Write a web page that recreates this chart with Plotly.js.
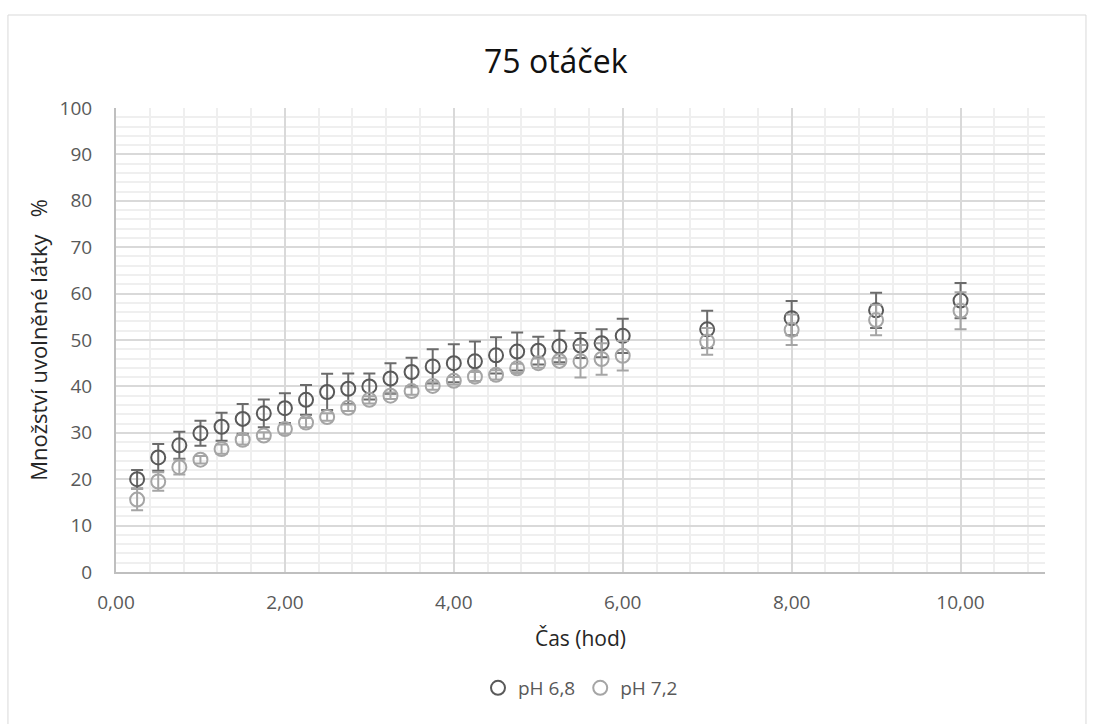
<!DOCTYPE html>
<html>
<head>
<meta charset="utf-8">
<script src="https://cdn.plot.ly/plotly-3.0.1.min.js"></script>
<style>html,body{margin:0;padding:0;background:#fff;}#chart{width:1094px;height:724px;}</style>
</head>
<body>
<div id="chart"></div>
<script>
const timeHours = [0.25,0.5,0.75,1.0,1.25,1.5,1.75,2.0,2.25,2.5,2.75,3.0,3.25,3.5,3.75,4.0,4.25,4.5,4.75,5.0,5.25,5.5,5.75,6.0,7,8,9,10];
const releasePH68 = [20.0,24.7,27.3,29.9,31.3,33.0,34.2,35.3,37.1,38.8,39.5,40.0,41.7,43.1,44.3,45.0,45.4,46.7,47.5,47.7,48.6,48.8,49.3,50.9,52.3,54.7,56.4,58.5];
const errorPH68 = [2.0,2.9,2.9,2.7,3.0,3.2,3.0,3.2,3.2,3.9,3.3,2.8,3.3,3.1,3.7,4.1,4.3,3.9,4.1,3.0,3.4,2.7,3.0,3.7,4.0,3.7,3.8,3.8];
const releasePH72 = [15.6,19.5,22.6,24.2,26.5,28.5,29.4,30.8,32.2,33.4,35.4,37.1,38.0,39.0,40.1,41.2,42.1,42.5,43.9,45.0,45.5,45.4,45.9,46.6,49.7,52.2,54.3,56.3];
const errorPH72 = [2.3,2.0,1.6,0.8,1.0,1.0,0.7,1.0,1.0,0.8,0.7,0.8,0.7,0.8,0.8,0.8,1.0,1.0,1.0,1.0,0.7,3.5,3.4,3.2,2.9,3.3,3.3,4.0];
const seriesNames = ["pH 6,8", "pH 7,2"];
const chartTitle = "75 otáček";
const xTitle = "Čas (hod)";
const yTitle = "Množství uvolněné látky\u00A0\u00A0\u00A0%";

const font = "Open Sans, Noto Sans, sans-serif";

const traces = [
  {
    x: timeHours, y: releasePH68, name: seriesNames[0], type: "scatter", mode: "markers",
    marker: {symbol: "circle-open", size: 14, color: "#595959", line: {width: 2, color: "#595959"}},
    error_y: {type: "data", array: errorPH68, visible: true, color: "#6b6b6b", thickness: 2, width: 6}
  },
  {
    x: timeHours, y: releasePH72, name: seriesNames[1], type: "scatter", mode: "markers",
    marker: {symbol: "circle-open", size: 14, color: "#a5a5a5", line: {width: 2, color: "#a5a5a5"}},
    error_y: {type: "data", array: errorPH72, visible: true, color: "#a5a5a5", thickness: 2, width: 6}
  }
];

const layout = {
  width: 1094, height: 724,
  paper_bgcolor: "#fff", plot_bgcolor: "#fff",
  margin: {l: 116, r: 49, t: 108, b: 152},
  separators: ", ",
  font: {family: font, color: "#595959", size: 19},
  title: {text: chartTitle, font: {family: font, size: 32, color: "#111"}, x: 0.508, xanchor: "center", y: 0.915, yanchor: "middle"},
  showlegend: true,
  legend: {orientation: "h", x: 0.5, xanchor: "center", y: -0.25, yanchor: "middle", font: {size: 19, color: "#595959"}, itemwidth: 30, tracegroupgap: 0},
  xaxis: {
    range: [0, 11], dtick: 2, tick0: 0, tickformat: ".2f",
    showgrid: true, gridcolor: "#d9d9d9", gridwidth: 2,
    minor: {dtick: 0.4, tick0: 0, showgrid: true, gridcolor: "#efefef", gridwidth: 2},
    showline: true, linecolor: "#bfbfbf", linewidth: 2, zeroline: false, ticks: "",
    ticklabelstandoff: 12,
    tickfont: {size: 19, color: "#595959"},
    title: {text: xTitle, font: {size: 21, color: "#262626"}, standoff: 18},
    fixedrange: true
  },
  yaxis: {
    range: [0, 100], dtick: 10, tick0: 0,
    showgrid: true, gridcolor: "#d9d9d9", gridwidth: 2,
    minor: {dtick: 2, tick0: 0, showgrid: true, gridcolor: "#efefef", gridwidth: 2},
    showline: true, linecolor: "#bfbfbf", linewidth: 2, zeroline: false, ticks: "",
    ticklabelstandoff: 18,
    tickfont: {size: 19, color: "#595959"},
    title: {text: yTitle, font: {size: 22, color: "#262626"}, standoff: 6},
    fixedrange: true
  },
  shapes: [
    {type: "rect", xref: "paper", yref: "paper", x0: -0.1163, x1: 1.0441, y0: -0.36, y1: 1.2004,
     line: {color: "#d9d9d9", width: 1}, fillcolor: "rgba(0,0,0,0)", layer: "below"}
  ]
};

Plotly.newPlot("chart", traces, layout, {displayModeBar: false, staticPlot: true});
</script>
</body>
</html>
